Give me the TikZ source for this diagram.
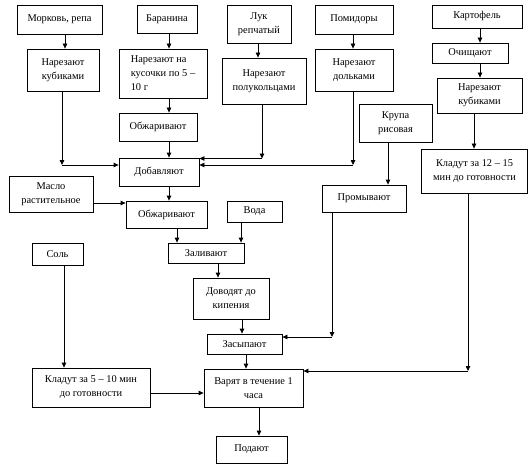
\documentclass[tikz,border=0pt]{standalone}
\usepackage{fontspec}
\setmainfont{Liberation Serif}
\usetikzlibrary{arrows.meta}
\begin{document}
\begin{tikzpicture}[x = 1pt, y = -1pt,
        box/.style = {draw, line width = 0.8pt, inner sep = 1pt, align = center},
        arr/.style = {line width = 0.8pt, -{Triangle[length = 5pt, width = 4.5pt]}}]
            \useasboundingbox (0,0) rectangle (529,473);
            \begin{scope}[every node/.append style = {font = \fontsize{10.4}{14}\selectfont}]
                \node[box, minimum width = 85pt, minimum height = 29pt] (morkov) at (59.5,19.5) {Морковь, репа};
                \node[box, minimum width = 72pt, minimum height = 42pt] (kub1) at (63,70) {Нарезают\\кубиками};
                \node[box, minimum width = 60pt, minimum height = 28pt] (baran) at (167,19) {Баранина};
                \node[box, minimum width = 88pt, minimum height = 49pt, align = left] (kus) at (163,73.5) {Нарезают на\\кусочки по 5 –\\10 г};
                \node[box, minimum width = 78pt, minimum height = 28pt] (obzh1) at (158,127) {Обжаривают};
                \node[box, minimum width = 64pt, minimum height = 38pt] (luk) at (259,24) {Лук\\репчатый};
                \node[box, minimum width = 84pt, minimum height = 46pt] (polu) at (264,81) {Нарезают\\полукольцами};
                \node[box, minimum width = 78pt, minimum height = 29pt] (pomid) at (354,19.5) {Помидоры};
                \node[box, minimum width = 78pt, minimum height = 42pt] (dolk) at (354,70) {Нарезают\\дольками};
                \node[box, minimum width = 90pt, minimum height = 23pt] (kart) at (477,16.5) {Картофель};
                \node[box, minimum width = 76pt, minimum height = 20pt] (ochish) at (470,53) {Очищают};
                \node[box, minimum width = 85pt, minimum height = 35pt] (kub2) at (479.5,95.5) {Нарезают\\кубиками};
                \node[box, minimum width = 73pt, minimum height = 38pt] (krupa) at (395.5,123) {Крупа\\рисовая};
                \node[box, minimum width = 106pt, minimum height = 44pt] (klad15) at (474.5,171) {Кладут за 12 – 15\\мин до готовности};
                \node[box, minimum width = 84pt, minimum height = 27pt] (promyv) at (364,198.5) {Промывают};
                \node[box, minimum width = 80pt, minimum height = 28pt] (dobav) at (159,172) {Добавляют};
                \node[box, minimum width = 84pt, minimum height = 36pt] (maslo) at (51,194) {Масло\\растительное};
                \node[box, minimum width = 81pt, minimum height = 27pt] (obzh2) at (166.5,214.5) {Обжаривают};
                \node[box, minimum width = 55pt, minimum height = 21pt] (voda) at (254.5,211.5) {Вода};
                \node[box, minimum width = 51pt, minimum height = 22pt] (sol) at (57.5,254) {Соль};
                \node[box, minimum width = 76pt, minimum height = 20pt] (zaliv) at (206,253) {Заливают};
                \node[box, minimum width = 76pt, minimum height = 41pt] (dovod) at (231,298.5) {Доводят до\\кипения};
                \node[box, minimum width = 75pt, minimum height = 20pt] (zasyp) at (244.5,344) {Засыпают};
                \node[box, minimum width = 118pt, minimum height = 39pt] (klad10) at (91,387.5) {Кладут за 5 – 10 мин\\до готовности};
                \node[box, minimum width = 99pt, minimum height = 38pt] (varyat) at (253.5,388) {Варят в течение 1\\часа};
                \node[box, minimum width = 71pt, minimum height = 27pt] (podayut) at (251.5,449.5) {Подают};
            \end{scope}
            \coordinate (c1) at (62,165);
            \coordinate (c2) at (262,158.5);
            \coordinate (c3) at (353,165);
            \coordinate (c4) at (332,337);
            \coordinate (c5) at (468,371);
            \draw[arr] (morkov.south -| 65,0) -- (kub1.north -| 65,0);
            \draw[arr] (kub1.south -| c1) -- (c1);
            \draw[arr] (c1) -- (dobav.west |- c1);
            \draw[arr] (baran.south -| 169,0) -- (kus.north -| 169,0);
            \draw[arr] (kus.south -| 169,0) -- (obzh1.north -| 169,0);
            \draw[arr] (obzh1.south -| 169,0) -- (dobav.north -| 169,0);
            \draw[arr] (luk.south -| 258,0) -- (polu.north -| 258,0);
            \draw[arr] (polu.south -| c2) -- (c2);
            \draw[arr] (c2) -- (dobav.east |- c2);
            \draw[arr] (pomid.south -| 353,0) -- (dolk.north -| 353,0);
            \draw[arr] (dolk.south -| c3) -- (c3);
            \draw[arr] (c3) -- (dobav.east |- c3);
            \draw[arr] (kart.south -| 480,0) -- (ochish.north -| 480,0);
            \draw[arr] (ochish.south -| 480,0) -- (kub2.north -| 480,0);
            \draw[arr] (kub2.south -| 474,0) -- (klad15.north -| 474,0);
            \draw[arr] (krupa.south -| 388,0) -- (promyv.north -| 388,0);
            \draw[arr] (promyv.south -| c4) -- (c4);
            \draw[arr] (c4) -- (zasyp.east |- c4);
            \draw[arr] (klad15.south -| c5) -- (c5);
            \draw[arr] (c5) -- (varyat.east |- c5);
            \draw[arr] (dobav.south -| 169,0) -- (obzh2.north -| 169,0);
            \draw[arr] (maslo.east |- 0,203) -- (obzh2.west |- 0,203);
            \draw[arr] (obzh2.south -| 177,0) -- (zaliv.north -| 177,0);
            \draw[arr] (voda.south -| 241,0) -- (zaliv.north -| 241,0);
            \draw[arr] (zaliv.south -| 218,0) -- (dovod.north -| 218,0);
            \draw[arr] (dovod.south -| 242,0) -- (zasyp.north -| 242,0);
            \draw[arr] (zasyp.south -| 246,0) -- (varyat.north -| 246,0);
            \draw[arr] (sol.south -| 64,0) -- (klad10.north -| 64,0);
            \draw[arr] (klad10.east |- 0,393) -- (varyat.west |- 0,393);
            \draw[arr] (varyat.south -| 259,0) -- (podayut.north -| 259,0);
        \end{tikzpicture}
\end{document}
